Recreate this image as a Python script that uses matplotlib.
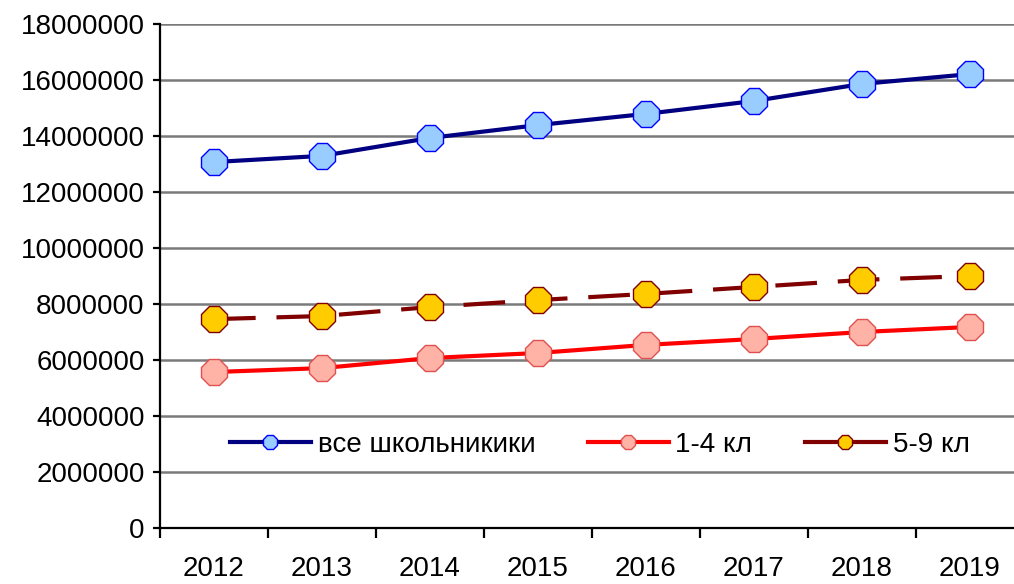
import matplotlib
matplotlib.use("Agg")
import matplotlib.pyplot as plt
from matplotlib.lines import Line2D

plt.rcParams['font.family'] = ['Liberation Sans', 'DejaVu Sans']

# данные
years = ['2012', '2013', '2014', '2015', '2016', '2017', '2018', '2019']
all_pupils = [13070000, 13290000, 13930000, 14390000, 14790000, 15250000, 15860000, 16210000]
grades_1_4 = [5570000, 5710000, 6070000, 6250000, 6540000, 6750000, 7000000, 7180000]
grades_5_9 = [7460000, 7570000, 7890000, 8140000, 8360000, 8610000, 8860000, 9000000]
labels = ['все школьникики', '1-4 кл', '5-9 кл']

fig = plt.figure(figsize=(10.14, 5.84), dpi=100)
ax = fig.add_axes([160 / 1014, 56 / 584, 864 / 1014, 504 / 584])

x = list(range(len(years)))
ms = 20

ax.plot(x, all_pupils, color='#000080', lw=3, marker='8', ms=ms,
        mfc='#99ccff', mec='#0000ff', mew=1, zorder=4)
ax.plot(x, grades_1_4, color='#ff0000', lw=3, marker='8', ms=ms,
        mfc='#ffb3a6', mec='#e05050', mew=1, zorder=4)
ax.plot(x, grades_5_9, color='#800000', lw=3, ls=(0, (10, 5)), marker='8', ms=ms,
        mfc='#ffcc00', mec='#800000', mew=1, zorder=4)

# оси
ax.set_ylim(0, 18000000)
ax.set_yticks(range(0, 18000001, 2000000))
ax.set_yticklabels([str(v) for v in range(0, 18000001, 2000000)])
ax.set_xlim(-0.5, 7.5)
ax.set_xticks([i - 0.5 for i in range(len(years))])
ax.set_xticklabels([])
ax.set_xticks(x, minor=True)
ax.set_xticklabels(years, minor=True)

ax.grid(axis='y', color='#7a7a7a', lw=1.8, zorder=0)
ax.set_axisbelow(True)
for s in ['top', 'right']:
    ax.spines[s].set_visible(False)
for s in ['left', 'bottom']:
    ax.spines[s].set_linewidth(1.6)
    ax.spines[s].set_color('black')

ax.tick_params(axis='y', labelsize=20, length=5, width=1.6, pad=6)
ax.tick_params(axis='x', which='major', length=7, width=1.6, direction='out')
ax.tick_params(axis='x', which='minor', length=0, labelsize=20, pad=20)

# легенда
handles = [
    Line2D([], [], color='#000080', lw=3, marker='8', ms=11, mfc='#99ccff', mec='#0000ff'),
    Line2D([], [], color='#ff0000', lw=3, marker='8', ms=11, mfc='#ffb3a6', mec='#e05050'),
    Line2D([], [], color='#800000', lw=3, marker='8', ms=11, mfc='#ffcc00', mec='#800000'),
]
ax.legend(handles, labels, loc='center', bbox_to_anchor=(0.509, 0.165), ncol=3,
          frameon=False, fontsize=20, handlelength=2.9, handletextpad=0.25,
          columnspacing=1.9)

fig.savefig('out.png', dpi=100)
